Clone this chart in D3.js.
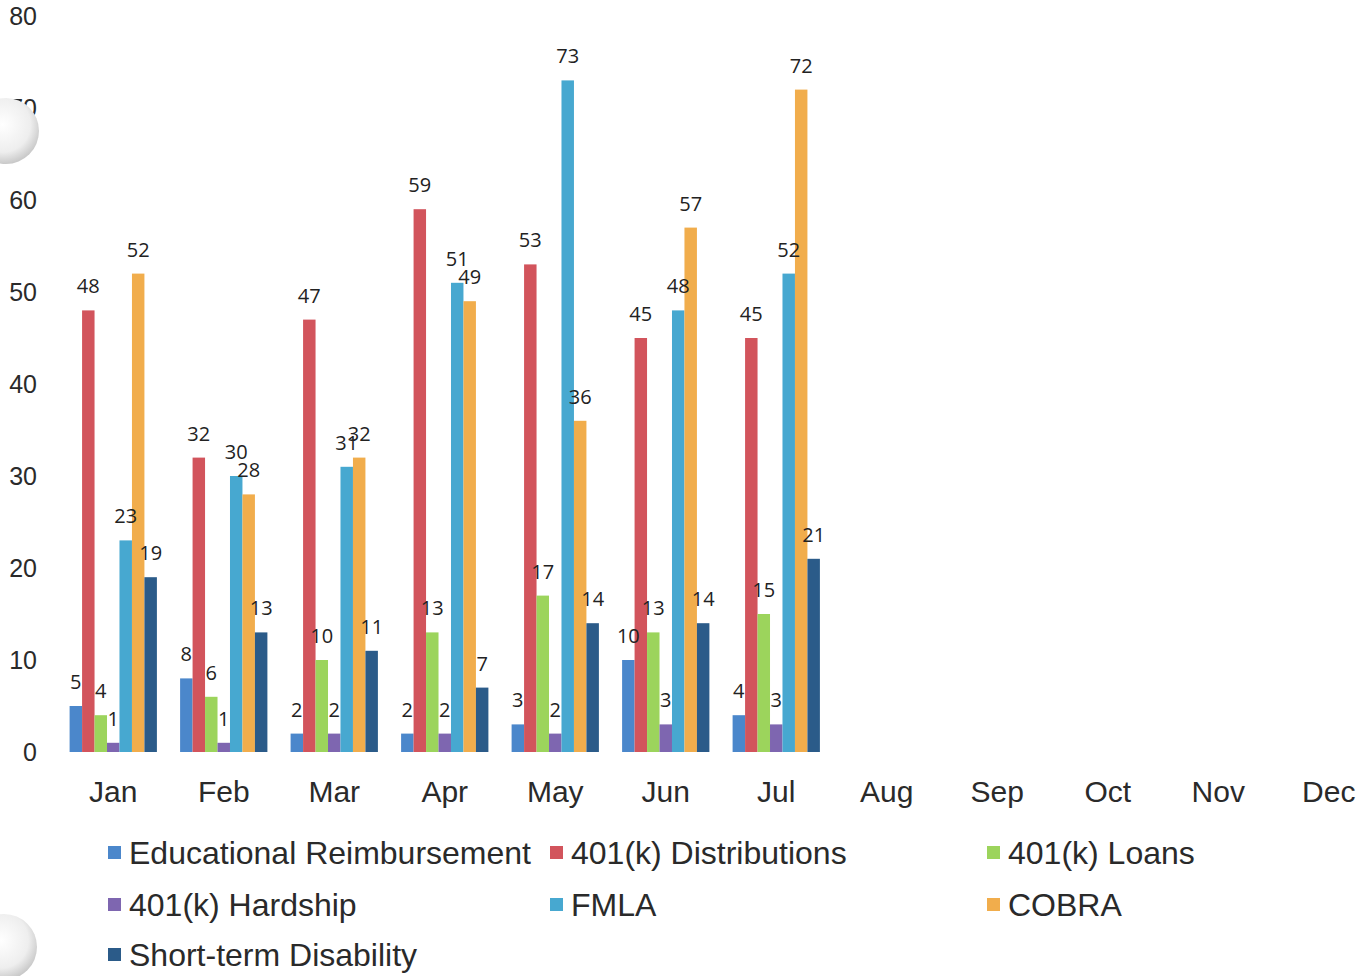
<!DOCTYPE html>
<html lang="en">
<head>
    <meta charset="UTF-8">
    <title>Benefits requests by month</title>
    <script src="https://d3js.org/d3.v7.min.js"></script>
    <style>
        body { margin: 0; background: #fff; }
        svg { display: block; }
    </style>
</head>
<body>
<svg id="chart"></svg>
<script>
    const width = 1362;
    const height = 976;

    // data
    var months = ["Jan", "Feb", "Mar", "Apr", "May", "Jun", "Jul", "Aug", "Sep", "Oct", "Nov", "Dec"]
    var seriesNames = ["Educational Reimbursement", "401(k) Distributions", "401(k) Loans",
        "401(k) Hardship", "FMLA", "COBRA", "Short-term Disability"]
    var eduReimb = [5, 8, 2, 2, 3, 10, 4]
    var distributions = [48, 32, 47, 59, 53, 45, 45]
    var loans = [4, 6, 10, 13, 17, 13, 15]
    var hardship = [1, 1, 2, 2, 2, 3, 3]
    var fmla = [23, 30, 31, 51, 73, 48, 52]
    var cobra = [52, 28, 32, 49, 36, 57, 72]
    var shortTerm = [19, 13, 11, 7, 14, 14, 21]
    var yTicks = [0, 10, 20, 30, 40, 50, 60, 70, 80]

    var colors = ["#4b87cb", "#d2545c", "#9cd45c", "#7e66b0", "#47a8d0", "#f1ad4c", "#2b5b89"]

    var allSeries = [eduReimb, distributions, loans, hardship, fmla, cobra, shortTerm]

    // flatten into rows for the bars
    var rows = [];
    allSeries.forEach(function (vals, si) {
        vals.forEach(function (v, mi) {
            rows.push({series: seriesNames[si], month: months[mi], value: v, color: colors[si]});
        });
    });

    const svg = d3.select("#chart")
        .attr("width", width)
        .attr("height", height);

    const x = d3.scaleBand()
        .domain(months)
        .range([58, 1384])
        .paddingInner(0.21)
        .paddingOuter(0.105);

    const xInner = d3.scaleBand()
        .domain(seriesNames)
        .range([0, x.bandwidth()]);

    const y = d3.scaleLinear()
        .domain([0, 80])
        .range([752, 16]);

    // y axis labels, no line
    const yAxis = svg.append("g")
        .attr("transform", "translate(37,0)")
        .call(d3.axisLeft(y).tickValues(yTicks).tickSize(0).tickPadding(0));
    yAxis.select(".domain").remove();
    yAxis.selectAll("text")
        .attr("font-family", "Liberation Sans, Arial, sans-serif")
        .attr("font-size", 25)
        .attr("fill", "#2a2a2a");

    // x axis labels
    const xAxis = svg.append("g")
        .attr("transform", "translate(0,766)")
        .call(d3.axisBottom(x).tickSize(0).tickPadding(0));
    xAxis.select(".domain").remove();
    xAxis.selectAll("text")
        .attr("dy", "1.2em")
        .attr("font-family", "Liberation Sans, Arial, sans-serif")
        .attr("font-size", 30)
        .attr("fill", "#2a2a2a");

    // bars
    svg.append("g")
        .selectAll("rect")
        .data(rows)
        .join("rect")
        .attr("x", d => x(d.month) + xInner(d.series))
        .attr("y", d => y(d.value))
        .attr("width", xInner.bandwidth())
        .attr("height", d => y(0) - y(d.value))
        .attr("fill", d => d.color);

    // value labels
    svg.append("g")
        .selectAll("text")
        .data(rows)
        .join("text")
        .attr("x", d => x(d.month) + xInner(d.series) + xInner.bandwidth() / 2)
        .attr("y", d => y(d.value) - 17)
        .attr("text-anchor", "middle")
        .attr("font-family", "Open Sans, sans-serif")
        .attr("font-size", 20)
        .attr("fill", "#222")
        .text(d => d.value);

    // legend
    var legendPos = [[108, 853], [550, 853], [987, 853], [108, 905], [550, 905], [987, 905], [108, 955]];
    const legend = svg.append("g")
        .selectAll("g")
        .data(seriesNames)
        .join("g")
        .attr("transform", (d, i) => `translate(${legendPos[i][0]},${legendPos[i][1]})`);
    legend.append("rect")
        .attr("x", 0)
        .attr("y", -7)
        .attr("width", 13)
        .attr("height", 13)
        .attr("fill", (d, i) => colors[i]);
    legend.append("text")
        .attr("x", 21)
        .attr("dy", "0.35em")
        .attr("font-family", "Liberation Sans, Arial, sans-serif")
        .attr("font-size", 32)
        .attr("fill", "#2a2a2a")
        .text(d => d);

    // binder hole shadows from the scan
    var grad = svg.append("defs").append("radialGradient")
        .attr("id", "hole")
        .attr("cx", "45%").attr("cy", "40%").attr("r", "60%");
    grad.append("stop").attr("offset", "0%").attr("stop-color", "#ffffff");
    grad.append("stop").attr("offset", "70%").attr("stop-color", "#eeeeee");
    grad.append("stop").attr("offset", "100%").attr("stop-color", "#c9c9c9");
    svg.append("circle").attr("cx", 6).attr("cy", 131).attr("r", 33).attr("fill", "url(#hole)");
    svg.append("circle").attr("cx", 4).attr("cy", 947).attr("r", 33).attr("fill", "url(#hole)");
</script>
</body>
</html>
